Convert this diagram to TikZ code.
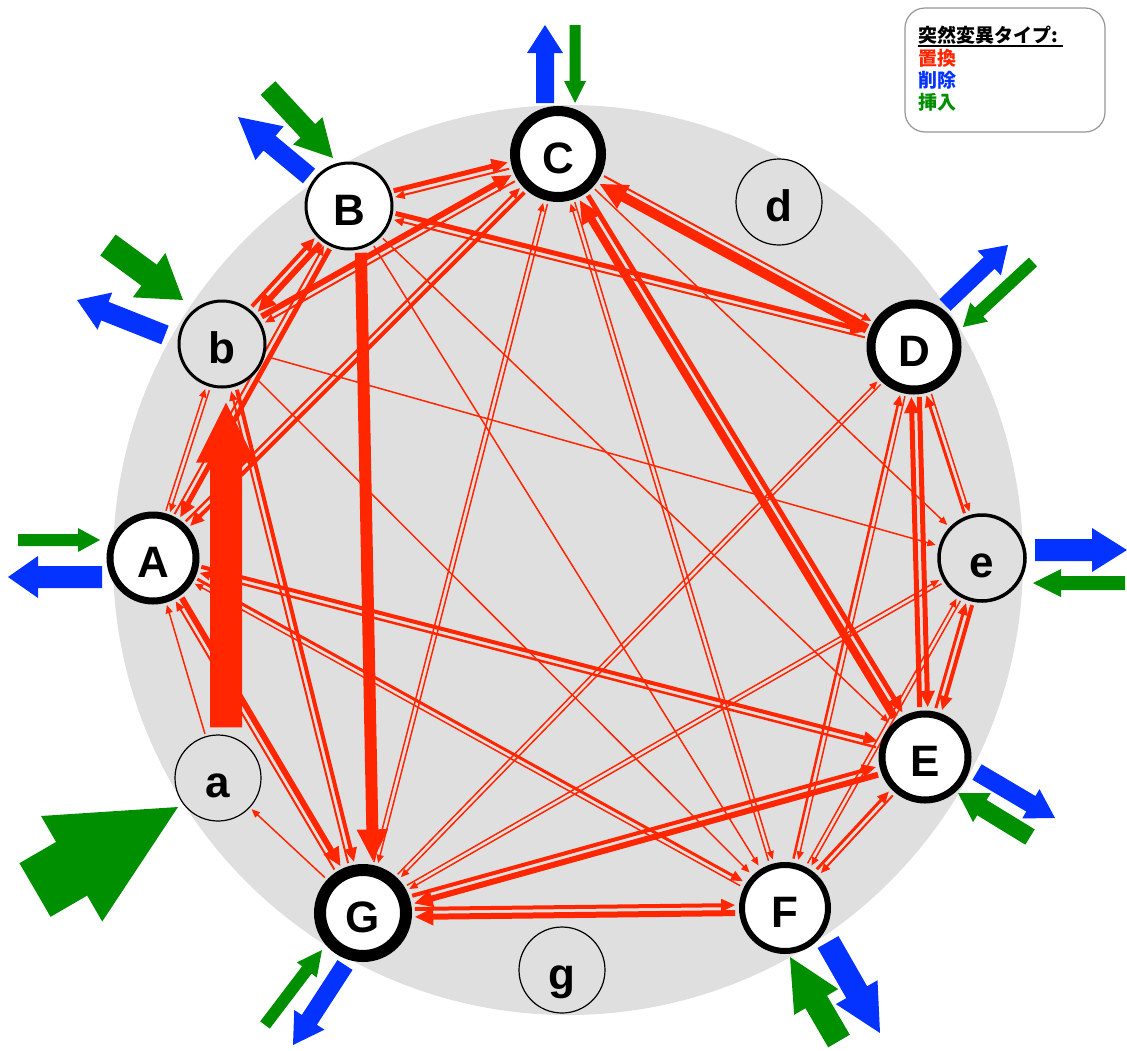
\documentclass[tikz,border=0pt]{standalone}
\usepackage{fontspec}
\newfontfamily\lab{Liberation Sans}
\newfontfamily\jp{Noto Sans CJK JP}
\usetikzlibrary{calc}
\definecolor{ered}{RGB}{255,38,0}
\definecolor{dblue}{RGB}{4,51,255}
\definecolor{igreen}{RGB}{0,143,0}
\definecolor{bgg}{RGB}{223,223,223}
\definecolor{frame}{RGB}{150,150,150}
\pgfdeclarelayer{back}
\pgfdeclarelayer{edges}
\pgfsetlayers{back,edges,main}
% node radii (outer radius + gap)
\expandafter\def\csname rrA\endcsname{49}
\expandafter\def\csname rra\endcsname{46}
\expandafter\def\csname rrb\endcsname{48}
\expandafter\def\csname rrB\endcsname{47}
\expandafter\def\csname rrC\endcsname{51}
\expandafter\def\csname rrD\endcsname{50}
\expandafter\def\csname rre\endcsname{48}
\expandafter\def\csname rrE\endcsname{50}
\expandafter\def\csname rrF\endcsname{50}
\expandafter\def\csname rrG\endcsname{52}
\newcommand\rr[1]{\csname rr#1\endcsname}
% red mutation edge: from, to, width, left offset
\newcommand{\ed}[4]{%
  \pgfmathsetmacro\hl{5+2.2*#3}%
  \pgfmathsetmacro\hw{4+2.3*#3}%
  \pgfmathsetmacro\xa{\rr{#1}}%
  \pgfmathsetmacro\xb{\rr{#2}}%
  \pgfmathsetmacro\yo{#4+#3/2}%
  \pgfmathsetmacro\yi{#4-#3/2}%
  \pgfmathsetmacro\ho{#4+\hw/2}%
  \pgfmathsetmacro\hi{#4-\hw/2}%
  \fill[ered] let \p1=(#1.center), \p2=(#2.center),
    \n1={atan2(\y2-\y1,\x2-\x1)}, \n2={veclen(\x2-\x1,\y2-\y1)} in
    [shift={(\p1)}, rotate=\n1]
    (\xa pt,\yi pt) -- ({(\n2-\xb-\hl)*1pt},\yi pt) -- ({(\n2-\xb-\hl)*1pt},\hi pt)
    -- ({(\n2-\xb)*1pt},#4pt) -- ({(\n2-\xb-\hl)*1pt},\ho pt) -- ({(\n2-\xb-\hl)*1pt},\yo pt)
    -- (\xa pt,\yo pt) -- cycle;
}
% block arrow: start, end, shaft, head width, head length, colour
\newcommand{\blk}[6]{%
  \fill[#6] let \p1=(#1), \p2=(#2),
    \n1={atan2(\y2-\y1,\x2-\x1)}, \n2={veclen(\x2-\x1,\y2-\y1)} in
    [shift={(\p1)}, rotate=\n1]
    (0pt,{#3/2*1pt}) -- ({\n2*1pt-#5pt},{#3/2*1pt}) -- ({\n2*1pt-#5pt},{#4/2*1pt})
    -- ({\n2*1pt},0pt) -- ({\n2*1pt-#5pt},{-#4/2*1pt}) -- ({\n2*1pt-#5pt},{-#3/2*1pt})
    -- (0pt,{-#3/2*1pt}) -- cycle;
}
\begin{document}
\begin{tikzpicture}[x=1pt,y=-1pt,
  mnode/.style={circle, draw=black, minimum size=86pt, inner sep=0pt,
    font=\lab\bfseries\fontsize{44}{44}\selectfont, text height=38pt, text depth=0pt},
  bignode/.style={mnode, fill=white},
  smallnode/.style={mnode, fill=bgg},
  legtxt/.style={anchor=base west, inner sep=0pt, font=\jp\bfseries\fontsize{19}{19}\selectfont}]
\useasboundingbox (0,0) rectangle (1127,1050);
\begin{pgfonlayer}{back}
\fill[bgg] (568,560) circle[radius=455pt];
\end{pgfonlayer}

% nodes
\node[bignode, line width=7pt] (A) at (153,558) {A};
\node[smallnode, line width=1.2pt] (a) at (218,778) {a};
\node[smallnode, line width=3pt] (b) at (222,344) {b};
\node[bignode, line width=3pt] (B) at (349,206) {B};
\node[bignode, line width=10pt] (C) at (558,154) {C};
\node[smallnode, line width=1.2pt] (d) at (779,202) {d};
\node[bignode, line width=9pt] (D) at (914,347) {D};
\node[smallnode, line width=3.5pt] (e) at (982,558) {e};
\node[bignode, line width=7pt] (E) at (925,757) {E};
\node[bignode, line width=6pt] (F) at (785,908) {F};
\node[bignode, line width=12pt] (G) at (363,913) {G};
\node[smallnode, line width=1.2pt] (g) at (562,970) {g};

\begin{pgfonlayer}{edges}
\ed{B}{C}{5}{4}
\ed{C}{B}{2}{2.5}
\ed{B}{D}{5}{4}
\ed{D}{B}{2}{2.5}
\ed{C}{D}{2}{2.5}
\ed{D}{C}{10}{6.5}
\ed{C}{E}{5}{4}
\ed{E}{C}{8}{5.5}
\ed{C}{e}{1.5}{0}
\ed{C}{F}{1.5}{2.2}
\ed{F}{C}{1.5}{2.2}
\ed{C}{G}{1.5}{2.2}
\ed{G}{C}{1.5}{2.2}
\ed{C}{A}{4}{3.5}
\ed{A}{C}{2.5}{2.8}
\ed{b}{C}{6}{4.5}
\ed{C}{b}{2}{2.5}
\ed{B}{b}{6}{4.5}
\ed{b}{B}{4}{3.5}
\ed{A}{b}{1.5}{2.2}
\ed{b}{A}{1.5}{2.2}
\ed{a}{A}{1.5}{0}
\ed{G}{a}{1.5}{0}
\ed{B}{A}{5}{4}
\ed{A}{B}{2}{2.5}
\ed{B}{G}{12}{11}
\ed{B}{E}{1.5}{0}
\ed{B}{F}{1.5}{0}
\ed{A}{G}{6}{4.5}
\ed{G}{A}{2}{2.5}
\ed{b}{G}{4}{3.5}
\ed{G}{b}{2}{2.5}
\ed{D}{G}{1.5}{2.2}
\ed{G}{D}{1.5}{2.2}
\ed{e}{G}{1.5}{2.2}
\ed{G}{e}{1.5}{2.2}
\ed{E}{G}{6}{4.5}
\ed{G}{E}{4}{3.5}
\ed{F}{G}{6}{4.5}
\ed{G}{F}{4}{3.5}
\ed{A}{E}{4}{3.5}
\ed{E}{A}{2.5}{2.8}
\ed{A}{F}{3}{3}
\ed{F}{A}{1.5}{2.2}
\ed{b}{F}{1.5}{0}
\ed{b}{e}{1.5}{0}
\ed{D}{E}{5}{4}
\ed{E}{D}{5}{4}
\ed{D}{e}{1.5}{2.2}
\ed{e}{D}{3}{3}
\ed{D}{F}{1.5}{2.2}
\ed{F}{D}{2.5}{2.8}
\ed{e}{E}{4}{3.5}
\ed{E}{e}{3}{3}
\ed{E}{F}{2}{2.5}
\ed{F}{E}{3}{3}
\ed{F}{e}{1.5}{2.2}
\ed{e}{F}{1.5}{2.2}
% huge a -> b
\coordinate (ab1) at ($(a.north)+(8,-7)$);
\coordinate (ab2) at ($(b.south)+(4,14)$);
\blk{ab1}{ab2}{32}{60}{60}{ered}
\end{pgfonlayer}

% external insertion / deletion arrows
\coordinate (Cb1) at (545,103); \coordinate (Cb2) at (545,25);
\coordinate (Cg1) at (575,25);  \coordinate (Cg2) at (575,103);
\coordinate (Bb1) at (309,176); \coordinate (Bb2) at (238,117);
\coordinate (Bg1) at (268,88);  \coordinate (Bg2) at (333,158);
\coordinate (bb1) at (165,335); \coordinate (bb2) at (77,300);
\coordinate (bg1) at (108,245); \coordinate (bg2) at (183,300);
\coordinate (Ag1) at (18,540);  \coordinate (Ag2) at (100,540);
\coordinate (Ab1) at (102,577); \coordinate (Ab2) at (8,577);
\coordinate (ag1) at (35,890);  \coordinate (ag2) at (178,807);
\coordinate (Gg1) at (265,1025); \coordinate (Gg2) at (322,950);
\coordinate (Gb1) at (345,965); \coordinate (Gb2) at (293,1045);
\coordinate (Fb1) at (828,942); \coordinate (Fb2) at (880,1033);
\coordinate (Fg1) at (839,1041); \coordinate (Fg2) at (790,957);
\coordinate (Eb1) at (977,772); \coordinate (Eb2) at (1055,818);
\coordinate (Eg1) at (1030,837); \coordinate (Eg2) at (958,793);
\coordinate (eb1) at (1035,550); \coordinate (eb2) at (1127,550);
\coordinate (eg1) at (1125,583); \coordinate (eg2) at (1033,583);
\coordinate (Db1) at (945,305); \coordinate (Db2) at (1008,245);
\coordinate (Dg1) at (1033,262); \coordinate (Dg2) at (963,327);

\blk{Cb1}{Cb2}{18}{36}{28}{dblue}
\blk{Cg1}{Cg2}{11}{22}{22}{igreen}
\blk{Bb1}{Bb2}{19}{44}{41}{dblue}
\blk{Bg1}{Bg2}{20}{40}{37}{igreen}
\blk{bb1}{bb2}{20}{40}{30}{dblue}
\blk{bg1}{bg2}{26}{55}{42}{igreen}
\blk{Ag1}{Ag2}{12}{24}{22}{igreen}
\blk{Ab1}{Ab2}{22}{42}{30}{dblue}
\blk{ag1}{ag2}{62}{122}{123}{igreen}
\blk{Gg1}{Gg2}{12}{25}{25}{igreen}
\blk{Gb1}{Gb2}{18}{36}{30}{dblue}
\blk{Fb1}{Fb2}{24}{48}{47}{dblue}
\blk{Fg1}{Fg2}{25}{51}{52}{igreen}
\blk{Eb1}{Eb2}{18}{34}{28}{dblue}
\blk{Eg1}{Eg2}{18}{34}{28}{igreen}
\blk{eb1}{eb2}{22}{44}{35}{dblue}
\blk{eg1}{eg2}{14}{28}{28}{igreen}
\blk{Db1}{Db2}{16}{34}{26}{dblue}
\blk{Dg1}{Dg2}{12}{26}{22}{igreen}

% legend
\draw[frame, line width=1.2pt, fill=white, rounded corners=20pt] (905,8) rectangle (1105,132);
\node[legtxt] (lh) at (918,42) {突然変異タイプ:};
\draw[line width=1.2pt] (lh.base west) ++(0,4) -- ++(145,0);
\node[legtxt, text=ered] (l1) at (918,65) {置換};
\node[legtxt, text=dblue] (l2) at (918,87) {削除};
\node[legtxt, text=igreen] (l3) at (918,109) {挿入};
\end{tikzpicture}
\end{document}
